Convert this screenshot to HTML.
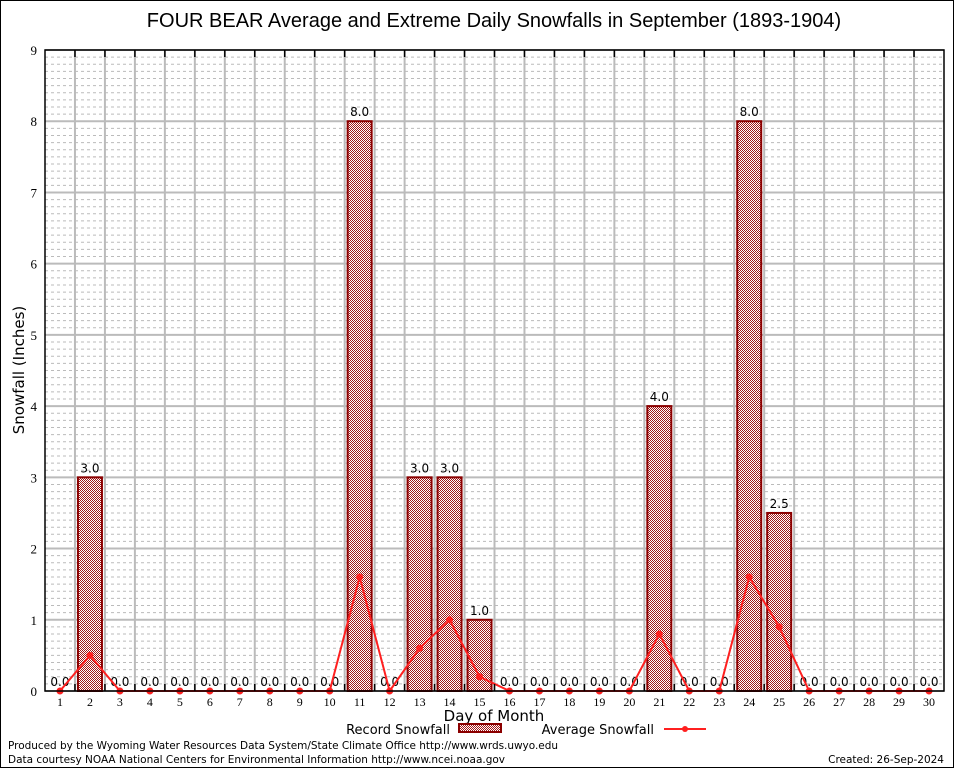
<!DOCTYPE html>
<html><head><meta charset="utf-8"><style>
body{margin:0;background:#fff;}
svg{display:block;font-family:"DejaVu Sans","Liberation Sans",sans-serif;}
</style></head><body>
<svg id="chart" width="954" height="768" viewBox="0 0 954 768">
<defs>
<pattern id="chk" width="2" height="2" patternUnits="userSpaceOnUse">
<rect width="2" height="2" fill="#fff"/><rect width="1" height="1" fill="#a01818"/><rect x="1" y="1" width="1" height="1" fill="#a01818"/>
</pattern>
</defs>
<rect x="0.5" y="0.5" width="953" height="767" fill="#fff" stroke="#000"/>
<text x="494" y="27" font-size="20" text-anchor="middle" font-family="Liberation Sans, sans-serif">FOUR BEAR Average and Extreme Daily Snowfalls in September (1893-1904)</text>
<g id="grid"></g>
<g id="bars"></g>
<g id="avg"></g>
<g id="axes"></g>
<text x="24" y="370" font-size="15" text-anchor="middle" transform="rotate(-90 24 370)">Snowfall (Inches)</text>
<text x="494" y="721" font-size="15" text-anchor="middle">Day of Month</text>
<g>
<text x="450" y="734" font-size="13" text-anchor="end">Record Snowfall</text>
<rect x="459" y="724" width="42" height="8" fill="url(#chk)" stroke="#8b0000" stroke-width="2"/>
<text x="654" y="734" font-size="13" text-anchor="end">Average Snowfall</text>
<line x1="664" y1="729" x2="706" y2="729" stroke="#ff2020" stroke-width="2"/>
<circle cx="685" cy="729" r="3" fill="#ff2020"/>
</g>
<text x="8" y="749" font-size="10.5" textLength="550">Produced by the Wyoming Water Resources Data System/State Climate Office http://www.wrds.uwyo.edu</text>
<text x="8" y="763" font-size="10.5" textLength="497">Data courtesy NOAA National Centers for Environmental Information http://www.ncei.noaa.gov</text>
<text x="944" y="763" font-size="10.5" text-anchor="end">Created:  26-Sep-2024</text>
</svg>
<script>
const days=[1,2,3,4,5,6,7,8,9,10,11,12,13,14,15,16,17,18,19,20,21,22,23,24,25,26,27,28,29,30];
const recordVals=[0,3,0,0,0,0,0,0,0,0,8,0,3,3,1,0,0,0,0,0,4,0,0,8,2.5,0,0,0,0,0];
const avgVals=[0,0.5,0,0,0,0,0,0,0,0,1.6,0,0.6,1.0,0.2,0,0,0,0,0,0.8,0,0,1.6,0.9,0,0,0,0,0];
const yTicks=[0,1,2,3,4,5,6,7,8,9];
const L=45,R=944,T=50,B=691,yMax=9;
const xs=d=>L+(d-0.5)*(R-L)/30;
const ys=v=>B-v*(B-T)/yMax;
const NS="http://www.w3.org/2000/svg";
function mk(tag,attrs,parent){const e=document.createElementNS(NS,tag);for(const k in attrs)e.setAttribute(k,attrs[k]);parent.appendChild(e);return e;}
const grid=document.getElementById('grid'),bars=document.getElementById('bars'),avg=document.getElementById('avg'),axes=document.getElementById('axes');
for(let i=1;i<90;i++){if(i%10===0)continue;const y=ys(i/10);const l=mk('line',{x1:L,x2:R,y1:y,y2:y,stroke:'#bbb','stroke-width':1,'stroke-dasharray':'3,3'},grid);

}
yTicks.forEach(v=>{const y=ys(v);const l=mk('line',{x1:L,x2:R,y1:y,y2:y,stroke:'#bbb','stroke-width':2},grid);


const t=mk('text',{x:L-8,y:y+5,'font-size':13,'text-anchor':'end','font-family':'Liberation Serif, serif'},axes);t.textContent=v;

});
for(let d=1;d<30;d++){const x=L+d*(R-L)/30;const l=mk('line',{x1:x,x2:x,y1:T,y2:B,stroke:'#bbb','stroke-width':2},grid);


mk('line',{x1:x,x2:x,y1:T,y2:T+7,stroke:'#000','stroke-width':1.5},axes);
mk('line',{x1:x,x2:x,y1:B,y2:B-7,stroke:'#000','stroke-width':1.5},axes);}
const bw=24;
days.forEach((d,i)=>{const v=recordVals[i];const x=xs(d);
if(v>0){const r=mk('rect',{x:x-bw/2,y:ys(v),width:bw,height:B-ys(v),fill:'url(#chk)',stroke:'#8b0000','stroke-width':2},bars);

}
const t=mk('text',{x:x,y:ys(v)-5,'font-size':12,'text-anchor':'middle'},bars);t.textContent=v.toFixed(1);


const xl=mk('text',{x:x,y:B+15,'font-size':12,'text-anchor':'middle','font-family':'Liberation Serif, serif'},axes);xl.textContent=d;

});
const pl=mk('polyline',{points:days.map((d,i)=>xs(d)+','+ys(avgVals[i])).join(' '),fill:'none',stroke:'#ff2020','stroke-width':2},avg);


days.forEach((d,i)=>{const c=mk('circle',{cx:xs(d),cy:ys(avgVals[i]),r:3.5,fill:'#ff2020'},avg);

});
const fr=mk('rect',{x:L,y:T,width:R-L,height:B-T,fill:'none',stroke:'#000','stroke-width':1.5},axes);


</script>
</body></html>
